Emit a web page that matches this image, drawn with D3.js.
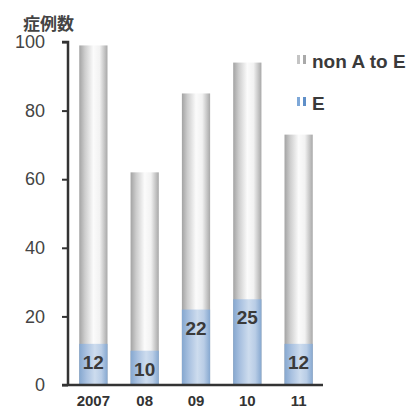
<!DOCTYPE html>
<html>
<head>
<meta charset="utf-8">
<script src="https://cdn.jsdelivr.net/npm/d3@7"></script>
<style>
	body { margin: 0; background: #fff; }
	svg { display: block; }
</style>
</head>
<body>
<div id="chart"></div>
<script>
//Data
const years = ['2007', '08', '09', '10', '11'];
const totals = [99, 62, 85, 94, 73];
const eCases = [12, 10, 22, 25, 12];
const yTicks = [0, 20, 40, 60, 80, 100];
const legendLabels = ['non A to E', 'E'];

const w = 416;
const h = 409;

const plot = d3.select('#chart').append('svg')
	.attr('width', w)
	.attr('height', h);

//Gradients to fake the shaded column look
const defs = plot.append('defs');

function addGradient(id, stops){
	const g = defs.append('linearGradient')
		.attr('id', id)
		.attr('x1', '0%').attr('x2', '100%')
		.attr('y1', '0%').attr('y2', '0%');
	stops.forEach(function(s){
		g.append('stop').attr('offset', s[0]).attr('stop-color', s[1]);
	});
}
addGradient('grayGrad', [['0%', '#a3a3a3'], ['20%', '#cdcdcd'], ['50%', '#fbfbfb'], ['72%', '#f2f2f2'], ['100%', '#a8a8a8']]);
addGradient('blueGrad', [['0%', '#85a7cf'], ['25%', '#a9c1e0'], ['55%', '#cddcee'], ['78%', '#b9cde6'], ['100%', '#86a8d0']]);

//Scales
const x = d3.scaleBand()
	.domain(years)
	.range([69, 323])
	.paddingInner(0.45)
	.paddingOuter(0.2);

const y = d3.scaleLinear()
	.domain([0, 100])
	.range([385, 42]);

//Bars (total in gray, E on top in blue)
const data = years.map(function(d, i){ return {year: d, total: totals[i], e: eCases[i]}; });

plot.selectAll('.bar-total')
	.data(data)
	.enter()
	.append('rect')
	.attr('class', 'bar-total')
	.attr('x', function(d){ return x(d.year); })
	.attr('width', x.bandwidth())
	.attr('y', function(d){ return y(d.total); })
	.attr('height', function(d){ return y(0) - y(d.total); })
	.style('fill', 'url(#grayGrad)');

plot.selectAll('.bar-e')
	.data(data)
	.enter()
	.append('rect')
	.attr('class', 'bar-e')
	.attr('x', function(d){ return x(d.year); })
	.attr('width', x.bandwidth())
	.attr('y', function(d){ return y(d.e); })
	.attr('height', function(d){ return y(0) - y(d.e); })
	.style('fill', 'url(#blueGrad)');

//Value labels inside blue part
plot.selectAll('.e-label')
	.data(data)
	.enter()
	.append('text')
	.attr('class', 'e-label')
	.attr('x', function(d){ return x(d.year) + x.bandwidth() / 2; })
	.attr('y', function(d){ return y(d.e) + 25; })
	.attr('text-anchor', 'middle')
	.style('font-family', 'Liberation Sans, Arial, sans-serif')
	.style('font-weight', 'bold')
	.style('font-size', '19px')
	.style('fill', '#3a3a3a')
	.text(function(d){ return d.e; });

//Y axis
const yAxis = d3.axisLeft(y)
	.tickValues(yTicks)
	.tickSize(6)
	.tickPadding(17);

const gy = plot.append('g')
	.attr('transform', 'translate(68,0)')
	.call(yAxis);

gy.select('.domain')
	.attr('d', 'M-6,' + y(100) + 'H0V' + y(0))
	.style('stroke', '#333')
	.style('stroke-width', '2.5px');
gy.selectAll('.tick line')
	.style('stroke', '#333')
	.style('stroke-width', '2px');
gy.selectAll('.tick text')
	.style('font-family', 'Liberation Sans, Arial, sans-serif')
	.style('font-size', '18px')
	.style('fill', '#444');

//X axis line
plot.append('line')
	.attr('x1', 62)
	.attr('x2', 323)
	.attr('y1', y(0))
	.attr('y2', y(0))
	.style('stroke', '#333')
	.style('stroke-width', '2.5px');

//Year labels
plot.selectAll('.year-label')
	.data(years)
	.enter()
	.append('text')
	.attr('class', 'year-label')
	.attr('x', function(d){ return x(d) + x.bandwidth() / 2; })
	.attr('y', 406)
	.attr('text-anchor', 'middle')
	.style('font-family', 'Liberation Sans, Arial, sans-serif')
	.style('font-weight', 'bold')
	.style('font-size', '15px')
	.style('fill', '#333')
	.text(function(d){ return d; });

//Axis title
plot.append('text')
	.attr('x', 23)
	.attr('y', 30)
	.style('font-family', 'Noto Sans CJK JP, sans-serif')
	.style('font-weight', 'bold')
	.style('font-size', '17px')
	.style('fill', '#444')
	.text('症例数');

//Legend
const legendColors = [['#c4c4c4', '#a9a9a9'], ['#7ea8d8', '#5f8fc8']];
const legend = plot.selectAll('.legend')
	.data(legendLabels)
	.enter()
	.append('g')
	.attr('class', 'legend')
	.attr('transform', function(d, i){ return 'translate(297,' + (55 + i * 42) + ')'; });

legend.each(function(d, i){
	const g = d3.select(this);
	g.append('rect').attr('x', 0).attr('y', 0).attr('width', 3).attr('height', 9).style('fill', legendColors[i][0]);
	g.append('rect').attr('x', 6).attr('y', 0).attr('width', 3).attr('height', 9).style('fill', legendColors[i][1]);
});

legend.append('text')
	.attr('x', 15)
	.attr('y', 13)
	.style('font-family', 'Liberation Sans, Arial, sans-serif')
	.style('font-weight', 'bold')
	.style('font-size', '19px')
	.style('fill', '#3a3a3a')
	.text(function(d){ return d; });
</script>
</body>
</html>
